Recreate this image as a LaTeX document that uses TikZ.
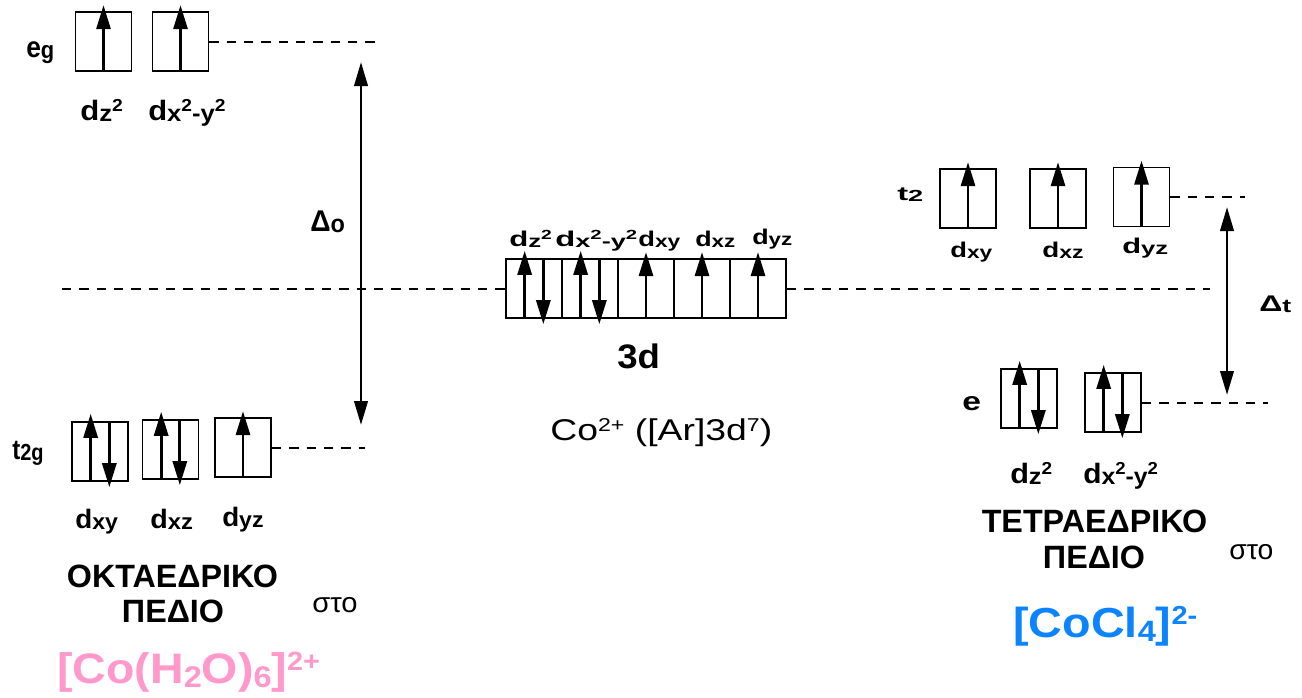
\documentclass[tikz,border=0pt]{standalone}
\usepackage{fontspec}
\setmainfont{Liberation Sans}
\usepackage{graphicx}
\usetikzlibrary{arrows.meta}
\definecolor{pinkc}{RGB}{255,153,204}
\definecolor{bluec}{RGB}{13,132,255}
\newcommand{\fsz}[1]{\fontsize{#1}{#1}\selectfont}
\newcommand{\hstretch}[2]{\resizebox{#1}{\height}{#2}}
\newcommand{\sbb}[1]{\raisebox{-0.06em}{\scalebox{0.83}{#1}}}
\newcommand{\spp}[1]{\raisebox{0.3em}{\scalebox{0.62}{#1}}}
\newcommand{\sbf}[1]{\raisebox{-0.1em}{\scalebox{0.7}{#1}}}
\newcommand{\elup}[1]{\draw[el] (#1.south) -- ([yshift=4.5pt]#1.north);}
\newcommand{\elpair}[1]{\draw[el] ([xshift=-7pt]#1.south) -- ([xshift=-7pt,yshift=5.5pt]#1.north);
  \draw[el] ([xshift=7pt]#1.north) -- ([xshift=7pt,yshift=-4pt]#1.south);}
\tikzset{
  orb/.style={draw, line width=1.3pt, minimum width=42pt, minimum height=44.25pt, inner sep=0pt},
  el/.style={line width=2.2pt, -{Triangle[length=18pt,width=10.5pt]}},
  lvl/.style={line width=1.5pt, dash pattern=on 7pt off 6pt},
  gapar/.style={line width=2.2pt, {Triangle[length=18pt,width=10pt]}-{Triangle[length=18pt,width=10pt]}},
  txt/.style={inner sep=0pt, anchor=base west, font=\bfseries},
  ttl/.style={inner sep=0pt, anchor=base, font=\bfseries\fsz{24.2}},
}
\begin{document}
\begin{tikzpicture}[x=0.75pt,y=-0.75pt]
\useasboundingbox (0,0) rectangle (1302,697);
% ---------- octahedral ----------
\node[orb] (eg1) at (103.5,41.5) {};
\node[orb] (eg2) at (180.5,41.5) {};
\node[orb] (tg1) at (100,451.5) {};
\node[orb] (tg2) at (170.5,449.5) {};
\node[orb] (tg3) at (243,447.5) {};
\elup{eg1} \elup{eg2}
\elpair{tg1} \elpair{tg2} \elup{tg3}
\coordinate (egend) at (378,41);
\coordinate (tgend) at (365,449);
\draw[lvl] (eg2.east) -- (eg2.east -| egend);
\draw[lvl] (tg3.east) -- (tg3.east -| tgend);
\coordinate (dotop) at (361,62);
\coordinate (dobot) at (361,425);
\draw[gapar] (dotop) -- (dobot);
\node[txt, font=\bfseries\fsz{22}] (leg) at (26,57) {\hstretch{21pt}{e\sbb{g}}};
\node[txt, font=\bfseries\fsz{21}] (legz) at (80,120) {\hstretch{32pt}{d\sbb{z}\spp{2}}};
\node[txt, font=\bfseries\fsz{21}] (legx) at (148,120) {\hstretch{58pt}{d\sbb{x}\spp{2}\sbb{-y}\spp{2}}};
\node[txt, font=\bfseries\fsz{21}] (ltg) at (12,459) {\hstretch{23.5pt}{t\sbb{2g}}};
\node[txt, font=\bfseries\fsz{20}] (ltgxy) at (75,528) {\hstretch{32pt}{d\sbb{xy}}};
\node[txt, font=\bfseries\fsz{20}] (ltgxz) at (150,528) {\hstretch{32pt}{d\sbb{xz}}};
\node[txt, font=\bfseries\fsz{20}] (ltgyz) at (222,526) {\hstretch{31pt}{d\sbb{yz}}};
\node[txt, font=\bfseries\fsz{22.5}] (ldo) at (310,231) {\hstretch{26pt}{Δ\sbb{o}}};
\node[ttl] (okt) at (172.5,587) {ΟΚΤΑΕΔΡΙΚΟ};
\node[ttl] (okp) at (173,622) {ΠΕΔΙΟ};
\node[txt, font=\fsz{21}] (sto1) at (312,612) {\hstretch{34pt}{στο}};
\node[txt, font=\bfseries\fsz{32}, text=pinkc] (cpx1) at (57,683) {\hstretch{197pt}{[Co(H\sbf{2}O)\sbf{6}]\spp{2+}}};
% ---------- free ion ----------
\node[orb] (c1) at (534,288.5) {};
\node[orb] (c2) at (590,288.5) {};
\node[orb] (c3) at (646,288.5) {};
\node[orb] (c4) at (702,288.5) {};
\node[orb] (c5) at (758,288.5) {};
\elpair{c1} \elpair{c2} \elup{c3} \elup{c4} \elup{c5}
\coordinate (cl) at (62,287);
\coordinate (cr) at (1210,286);
\draw[lvl] (cl |- c1.west) -- (c1.west);
\draw[lvl] (c5.east) -- (c5.east -| cr);
\node[txt, font=\bfseries\fsz{16}] (lcz) at (509,246) {\hstretch{32pt}{d\sbb{z}\spp{2}}};
\node[txt, font=\bfseries\fsz{16}] (lcx) at (555,246) {\hstretch{61.5pt}{d\sbb{x}\spp{2}\sbb{-y}\spp{2}}};
\node[txt, font=\bfseries\fsz{16}] (lcxy) at (638,246) {\hstretch{31.5pt}{d\sbb{xy}}};
\node[txt, font=\bfseries\fsz{16}] (lcxz) at (695,246) {\hstretch{30pt}{d\sbb{xz}}};
\node[txt, font=\bfseries\fsz{16}] (lcyz) at (752,244) {\hstretch{30pt}{d\sbb{yz}}};
\node[txt, font=\bfseries\fsz{25.5}] (l3d) at (617,368) {\hstretch{32pt}{3d}};
\node[txt, font=\fsz{22.5}] (lco) at (550,440) {\hstretch{166.5pt}{Co\spp{2+} ([Ar]3d\spp{7})}};
% ---------- tetrahedral ----------
\node[orb] (t1) at (968,198.5) {};
\node[orb] (t2) at (1058,198.5) {};
\node[orb] (t3) at (1141.5,197) {};
\node[orb] (e1) at (1029,398.5) {};
\node[orb] (e2) at (1113,402.5) {};
\elup{t1} \elup{t2} \elup{t3}
\elpair{e1} \elpair{e2}
\coordinate (tend) at (1245,197);
\coordinate (eend) at (1268,405);
\draw[lvl] (t3.east) -- (t3.east -| tend);
\draw[lvl] (e2.east) -- (e2.east -| eend);
\coordinate (dttop) at (1227,207);
\coordinate (dtbot) at (1227,395);
\draw[gapar] (dttop) -- (dtbot);
\node[txt, font=\bfseries\fsz{14.5}] (lt2) at (897,200) {\hstretch{19.5pt}{t\sbb{2}}};
\node[txt, font=\bfseries\fsz{16}] (ltxy) at (950,257) {\hstretch{31.5pt}{d\sbb{xy}}};
\node[txt, font=\bfseries\fsz{16}] (ltxz) at (1042,257) {\hstretch{31pt}{d\sbb{xz}}};
\node[txt, font=\bfseries\fsz{16}] (ltyz) at (1122,253) {\hstretch{34.5pt}{d\sbb{yz}}};
\node[txt, font=\bfseries\fsz{17}] (ldt) at (1259,311) {\hstretch{24pt}{Δ\sbb{t}}};
\node[txt, font=\bfseries\fsz{19.5}] (le) at (962,410) {\hstretch{14pt}{e}};
\node[txt, font=\bfseries\fsz{21}] (lez) at (1010,483) {\hstretch{31.5pt}{d\sbb{z}\spp{2}}};
\node[txt, font=\bfseries\fsz{21}] (lex) at (1083,483) {\hstretch{56pt}{d\sbb{x}\spp{2}\sbb{-y}\spp{2}}};
\node[ttl] (tet) at (1094.5,532) {ΤΕΤΡΑΕΔΡΙΚΟ};
\node[ttl] (tep) at (1094,568) {ΠΕΔΙΟ};
\node[txt, font=\fsz{21}] (sto2) at (1229,559) {\hstretch{33pt}{στο}};
\node[txt, font=\bfseries\fsz{31.5}, text=bluec] (cpx2) at (1013,637) {\hstretch{138pt}{[CoCl\sbf{4}]\spp{2-}}};
\end{tikzpicture}
\end{document}
